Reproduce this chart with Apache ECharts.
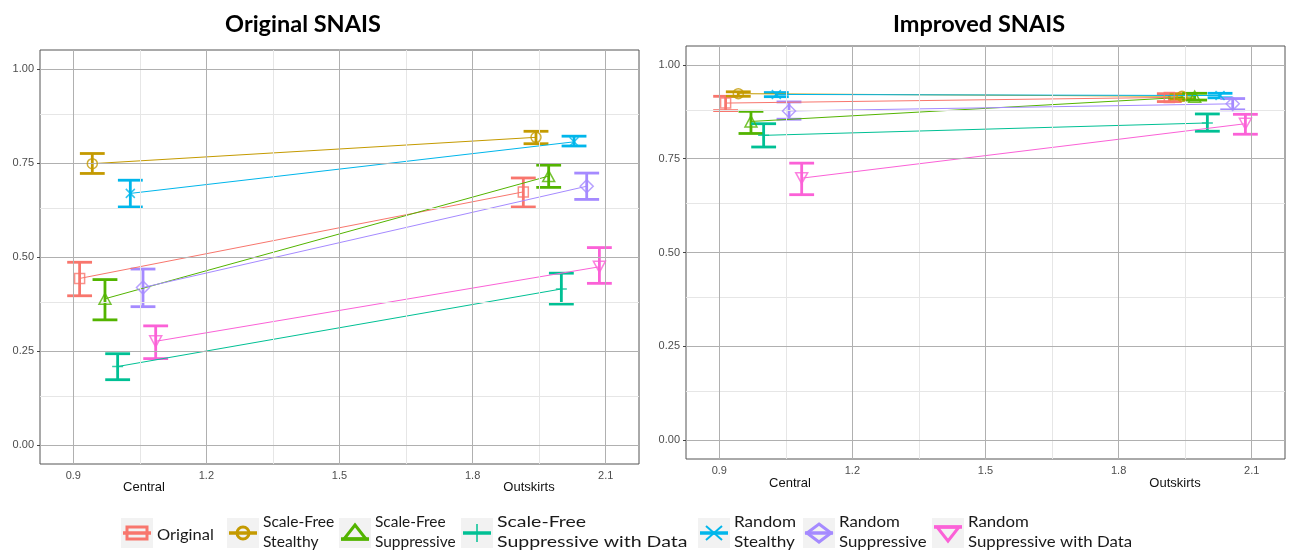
<!DOCTYPE html>
<html>
<head>
<meta charset="utf-8">
<script src="https://cdn.jsdelivr.net/npm/echarts@6/dist/echarts.min.js"></script>
<style>
html,body{margin:0;padding:0;background:#fff;}
#chart{width:1290px;height:552px;}
</style>
</head>
<body>
<div id="chart"></div>
<script>
// ---------------- DATA ----------------
var groups = ['Original', 'Scale-Free Stealthy', 'Scale-Free Suppressive', 'Scale-Free Suppressive with Data',
              'Random Stealthy', 'Random Suppressive', 'Random Suppressive with Data'];
var legendLabels = ['Original', 'Scale-Free\nStealthy', 'Scale-Free\nSuppressive', 'Scale-Free\nSuppressive with Data',
                    'Random\nStealthy', 'Random\nSuppressive', 'Random\nSuppressive with Data'];
var locations = ['Central', 'Outskirts'];
var locationX = [1, 2];
var xTicks = [0.9, 1.2, 1.5, 1.8, 2.1];
var xMinorTicks = [1.05, 1.35, 1.65, 1.95];
var yTicks = [0, 0.25, 0.5, 0.75, 1.0];
var yMinorTicks = [0.125, 0.375, 0.625, 0.875];

// Original SNAIS
var origCentralMean = [0.443, 0.748, 0.389, 0.209, 0.669, 0.419, 0.276];
var origCentralLow  = [0.397, 0.722, 0.333, 0.174, 0.633, 0.368, 0.230];
var origCentralHigh = [0.486, 0.775, 0.440, 0.243, 0.704, 0.468, 0.317];
var origOutMean     = [0.673, 0.818, 0.715, 0.415, 0.806, 0.688, 0.474];
var origOutLow      = [0.633, 0.801, 0.685, 0.375, 0.795, 0.653, 0.430];
var origOutHigh     = [0.710, 0.834, 0.744, 0.457, 0.821, 0.723, 0.525];

// Improved SNAIS
var impCentralMean = [0.898, 0.923, 0.849, 0.812, 0.921, 0.877, 0.698];
var impCentralLow  = [0.878, 0.916, 0.817, 0.781, 0.915, 0.855, 0.654];
var impCentralHigh = [0.916, 0.928, 0.876, 0.843, 0.926, 0.901, 0.738];
var impOutMean     = [0.913, 0.916, 0.915, 0.845, 0.918, 0.896, 0.843];
var impOutLow      = [0.902, 0.909, 0.906, 0.823, 0.912, 0.880, 0.815];
var impOutHigh     = [0.923, 0.922, 0.924, 0.869, 0.924, 0.910, 0.868];

// ---------------- STYLE ----------------
var colors = ['#F8766D', '#C49A00', '#53B400', '#00C094', '#00B6EB', '#A58AFF', '#FB61D7'];
var shapes = ['square', 'circle', 'triangle', 'plus', 'cross', 'diamond', 'triangleDown'];
var symbolPaths = {
  square: 'path://M0,0L10,0L10,10L0,10Z',
  circle: 'circle',
  triangle: 'path://M5,0L10,8.66L0,8.66Z',
  plus: 'path://M0,5L10,5M5,0L5,10',
  cross: 'path://M0,0L10,10M10,0L0,10',
  diamond: 'path://M5,0L10,5L5,10L0,5Z',
  triangleDown: 'path://M0,0L10,0L5,8.66Z'
};
var symbolSizes = {
  square: 10, circle: 10, triangle: [12, 11], plus: 11, cross: 9, diamond: 13, triangleDown: [12, 11]
};
var dodgeWidth = 0.2;
var nG = groups.length;
function dodge(base, i) { return base + (i - (nG - 1) / 2) * (dodgeWidth / nG); }
var whiskerHalf = 0.028;

var panels = [
  {title: 'Original SNAIS', cm: origCentralMean, cl: origCentralLow, ch: origCentralHigh,
   om: origOutMean, ol: origOutLow, oh: origOutHigh,
   grid: {left: 40, top: 50, width: 599, height: 414}},
  {title: 'Improved SNAIS', cm: impCentralMean, cl: impCentralLow, ch: impCentralHigh,
   om: impOutMean, ol: impOutLow, oh: impOutHigh,
   grid: {left: 686, top: 46, width: 599, height: 413}}
];

var grids = [], xAxes = [], yAxes = [], series = [];
var majorColor = '#b0b0b0', minorColor = '#e6e6e6';

panels.forEach(function (p, pi) {
  grids.push({left: p.grid.left, top: p.grid.top, width: p.grid.width, height: p.grid.height,
              show: true, borderColor: '#555', borderWidth: 1, backgroundColor: 'transparent'});
  xAxes.push({type: 'value', gridIndex: pi, min: 0.825, max: 2.175,
    axisLine: {show: false}, splitLine: {show: false},
    axisTick: {show: true, length: 3, lineStyle: {color: '#444'}, customValues: xTicks},
    axisLabel: {customValues: xTicks, color: '#4d4d4d', fontSize: 11, fontFamily: 'Liberation Sans', margin: 6,
                formatter: function (v) { return Number(v).toFixed(1); }}
  });
  yAxes.push({type: 'value', gridIndex: pi, min: -0.05, max: 1.05,
    axisLine: {show: false}, splitLine: {show: false},
    axisTick: {show: true, length: 3, lineStyle: {color: '#444'}, customValues: yTicks},
    axisLabel: {customValues: yTicks, color: '#4d4d4d', fontSize: 11, fontFamily: 'Liberation Sans', margin: 6,
                formatter: function (v) { return Number(v).toFixed(2); }}
  });
  // grid lines
  var ml = [];
  xMinorTicks.forEach(function (v) { ml.push({xAxis: v, lineStyle: {color: minorColor, width: 1, type: 'solid'}}); });
  yMinorTicks.forEach(function (v) { ml.push({yAxis: v, lineStyle: {color: minorColor, width: 1, type: 'solid'}}); });
  xTicks.forEach(function (v) { ml.push({xAxis: v, lineStyle: {color: majorColor, width: 1, type: 'solid'}}); });
  yTicks.forEach(function (v) { ml.push({yAxis: v, lineStyle: {color: majorColor, width: 1, type: 'solid'}}); });
  series.push({type: 'line', xAxisIndex: pi, yAxisIndex: pi, data: [], silent: true, z: 1,
    markLine: {silent: true, symbol: ['none', 'none'], label: {show: false}, animation: false, data: ml}});

  groups.forEach(function (g, i) {
    var c = colors[i];
    var xc = dodge(locationX[0], i), xo = dodge(locationX[1], i);
    // error bars
    series.push({type: 'custom', xAxisIndex: pi, yAxisIndex: pi, z: 3, silent: true,
      encode: {x: 0, y: [1, 2]},
      data: [[xc, p.cl[i], p.ch[i]], [xo, p.ol[i], p.oh[i]]],
      renderItem: (function (col) {
        return function (params, api) {
          var x = api.value(0), lo = api.value(1), hi = api.value(2);
          var top = api.coord([x, hi]), bot = api.coord([x, lo]);
          var l = api.coord([x - whiskerHalf, hi])[0], r = api.coord([x + whiskerHalf, hi])[0];
          var st = {stroke: col, lineWidth: 2.8, fill: null};
          return {type: 'group', children: [
            {type: 'line', shape: {x1: top[0], y1: top[1], x2: bot[0], y2: bot[1]}, style: st},
            {type: 'line', shape: {x1: l, y1: top[1], x2: r, y2: top[1]}, style: st},
            {type: 'line', shape: {x1: l, y1: bot[1], x2: r, y2: bot[1]}, style: st}
          ]};
        };
      })(c)
    });
    // connecting line
    series.push({type: 'line', name: g, xAxisIndex: pi, yAxisIndex: pi, z: 4, silent: true,
      symbol: 'none', lineStyle: {color: c, width: 1}, animation: false,
      data: [[xc, p.cm[i]], [xo, p.om[i]]]});
    // points
    series.push({type: 'scatter', xAxisIndex: pi, yAxisIndex: pi, z: 5, silent: true,
      symbol: symbolPaths[shapes[i]], symbolSize: symbolSizes[shapes[i]],
      itemStyle: {color: 'rgba(0,0,0,0)', borderColor: c, borderWidth: 1.5},
      data: [[xc, p.cm[i]], [xo, p.om[i]]]});
  });
});

// ---------------- GRAPHICS (titles, axis names, legend) ----------------
var graphics = [];
graphics.push({type: 'text', style: {text: panels[0].title, x: 303, y: 24, align: 'center', verticalAlign: 'middle',
  font: 'bold 23.5px Lato', fill: '#000'}});
graphics.push({type: 'text', style: {text: panels[1].title, x: 979, y: 24, align: 'center', verticalAlign: 'middle',
  font: 'bold 23.5px Lato', fill: '#000'}});
var axisNamePos = [[144, 487], [529, 487], [790, 483], [1175, 483]];
[0, 1].forEach(function (pi) {
  locations.forEach(function (loc, li) {
    var pos = axisNamePos[pi * 2 + li];
    graphics.push({type: 'text', style: {text: loc, x: pos[0], y: pos[1], align: 'center', verticalAlign: 'middle',
      font: '13px "Liberation Sans"', fill: '#111'}});
  });
});

var keyLeft = [121, 227, 339, 461, 698, 803, 932];
var textScaleX = [1.1, 1.04, 1.03, 1.3, 1.14, 1.12, 1.12];
var keyTop = 518, keyW = 32, keyH = 30;
function keyShape(shape, cx, cy, col) {
  var st = {stroke: col, lineWidth: 3, fill: null};
  switch (shape) {
    case 'square': return [{type: 'rect', shape: {x: cx - 10, y: cy - 6, width: 20, height: 12}, style: st}];
    case 'circle': return [{type: 'circle', shape: {cx: cx, cy: cy, r: 6}, style: st}];
    case 'triangle': return [{type: 'polygon', shape: {points: [[cx, cy - 8], [cx + 11, cy + 6], [cx - 11, cy + 6]]}, style: st}];
    case 'plus': return [{type: 'line', shape: {x1: cx, y1: cy - 9, x2: cx, y2: cy + 9}, style: {stroke: col, lineWidth: 1.5}}];
    case 'cross': return [
      {type: 'line', shape: {x1: cx - 8, y1: cy - 7, x2: cx + 8, y2: cy + 7}, style: {stroke: col, lineWidth: 2}},
      {type: 'line', shape: {x1: cx + 8, y1: cy - 7, x2: cx - 8, y2: cy + 7}, style: {stroke: col, lineWidth: 2}}];
    case 'diamond': return [{type: 'polygon', shape: {points: [[cx, cy - 9], [cx + 12, cy], [cx, cy + 9], [cx - 12, cy]]}, style: st}];
    case 'triangleDown': return [{type: 'polygon', shape: {points: [[cx - 11, cy - 6], [cx + 11, cy - 6], [cx, cy + 8]]}, style: st}];
  }
  return [];
}
groups.forEach(function (g, i) {
  var x0 = keyLeft[i], cx = x0 + keyW / 2, cy = keyTop + keyH / 2;
  graphics.push({type: 'rect', shape: {x: x0, y: keyTop, width: keyW, height: keyH}, style: {fill: '#f2f2f2'}});
  var lineY = shapes[i] === 'triangleDown' ? cy - 6 : (shapes[i] === 'triangle' ? cy + 6 : cy);
  graphics.push({type: 'line', shape: {x1: x0 + 2, y1: lineY, x2: x0 + keyW - 2, y2: lineY}, style: {stroke: colors[i], lineWidth: 3.5}});
  keyShape(shapes[i], cx, cy, colors[i]).forEach(function (el) { graphics.push(el); });
  var twoLine = legendLabels[i].indexOf('\n') >= 0;
  graphics.push({type: 'text', x: x0 + keyW + 4, y: twoLine ? 532 : 535, scaleX: textScaleX[i],
    style: {text: legendLabels[i], x: 0, y: 0,
    align: 'left', verticalAlign: 'middle', font: '15px Lato', lineHeight: 20, fill: '#1a1a1a'}});
});

var chart = echarts.init(document.getElementById('chart'), null, {renderer: 'canvas'});
chart.setOption({
  animation: false,
  backgroundColor: '#fff',
  grid: grids, xAxis: xAxes, yAxis: yAxes, series: series,
  graphic: graphics
});
</script>
</body>
</html>
